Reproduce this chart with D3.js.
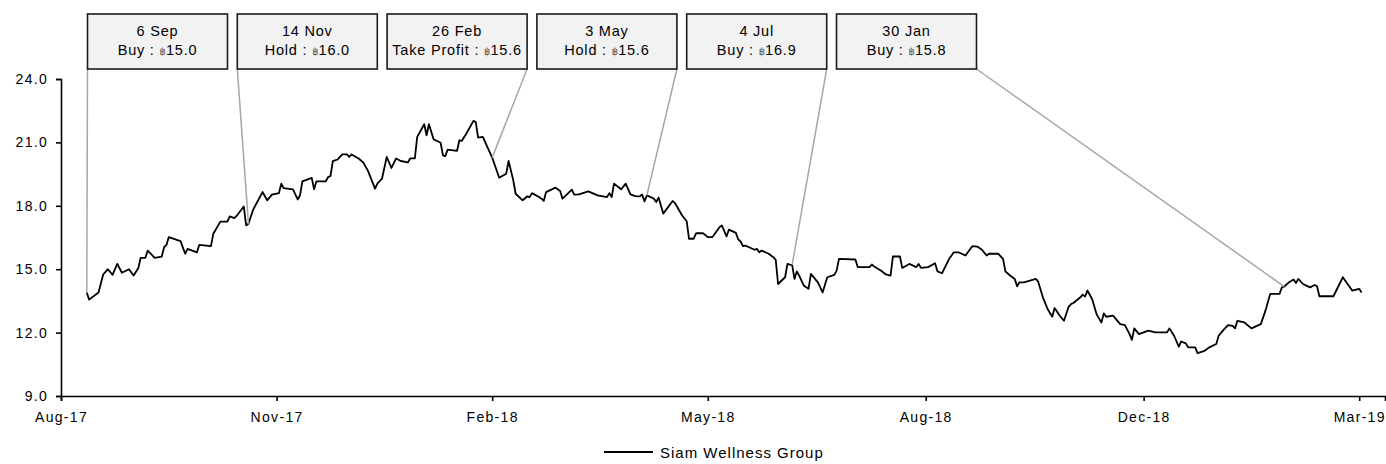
<!DOCTYPE html>
<html>
<head>
<meta charset="utf-8">
<script src="https://cdn.jsdelivr.net/npm/d3@7"></script>
<style>
  body { margin: 0; background: #fff; }
  .tick text { font-family: "Liberation Sans", Arial, sans-serif; font-size: 14px; letter-spacing: 1.3px; fill: #000; }
  .note text { font-family: "Liberation Sans", Arial, sans-serif; font-size: 14.5px; letter-spacing: 0.8px; fill: #000; }
  .note .baht { font-family: "DejaVu Sans", sans-serif; font-size: 10px; fill: #555; letter-spacing: 0; }
  .legend text { font-family: "Liberation Sans", Arial, sans-serif; font-size: 15px; letter-spacing: 1px; fill: #000; }
</style>
</head>
<body>
<div id="chart"></div>
<script>
// closing prices, Siam Wellness Group (THB)
const priceDates = [
  "2017-09-06","2017-09-07","2017-09-11","2017-09-13","2017-09-15","2017-09-17","2017-09-19","2017-09-21","2017-09-24","2017-09-26",
  "2017-09-28","2017-09-29","2017-10-01","2017-10-02","2017-10-05","2017-10-08","2017-10-09","2017-10-10","2017-10-11","2017-10-16",
  "2017-10-18","2017-10-19","2017-10-23","2017-10-24","2017-10-29","2017-10-30","2017-11-02","2017-11-05","2017-11-06","2017-11-08",
  "2017-11-09","2017-11-12","2017-11-13","2017-11-14","2017-11-16","2017-11-20","2017-11-22","2017-11-24","2017-11-27","2017-11-28",
  "2017-11-29","2017-12-03","2017-12-05","2017-12-06","2017-12-07","2017-12-11","2017-12-12","2017-12-13","2017-12-17","2017-12-18",
  "2017-12-19","2017-12-20","2017-12-22","2017-12-24","2017-12-26","2017-12-27","2017-12-28","2017-12-31","2018-01-02","2018-01-04",
  "2018-01-07","2018-01-08","2018-01-10","2018-01-12","2018-01-14","2018-01-16","2018-01-18","2018-01-21","2018-01-22","2018-01-24",
  "2018-01-25","2018-01-28","2018-01-29","2018-01-30","2018-02-01","2018-02-04","2018-02-05","2018-02-06","2018-02-07","2018-02-11",
  "2018-02-12","2018-02-13","2018-02-15","2018-02-18","2018-02-19","2018-02-20","2018-02-22","2018-02-26","2018-03-01","2018-03-04",
  "2018-03-05","2018-03-07","2018-03-08","2018-03-11","2018-03-13","2018-03-14","2018-03-15","2018-03-18","2018-03-19","2018-03-20",
  "2018-03-21","2018-03-25","2018-03-27","2018-03-28","2018-04-01","2018-04-02","2018-04-04","2018-04-08","2018-04-12","2018-04-16",
  "2018-04-17","2018-04-18","2018-04-19","2018-04-22","2018-04-24","2018-04-26","2018-04-28","2018-04-30","2018-05-01","2018-05-02",
  "2018-05-03","2018-05-06","2018-05-07","2018-05-08","2018-05-10","2018-05-14","2018-05-15","2018-05-18","2018-05-20","2018-05-21",
  "2018-05-23","2018-05-24","2018-05-27","2018-05-29","2018-05-31","2018-06-03","2018-06-04","2018-06-06","2018-06-07","2018-06-10",
  "2018-06-11","2018-06-12","2018-06-13","2018-06-14","2018-06-18","2018-06-19","2018-06-20","2018-06-21","2018-06-24","2018-06-26",
  "2018-06-27","2018-06-28","2018-07-01","2018-07-02","2018-07-03","2018-07-04","2018-07-05","2018-07-06","2018-07-07","2018-07-09",
  "2018-07-11","2018-07-12","2018-07-15","2018-07-17","2018-07-19","2018-07-22","2018-07-23","2018-07-24","2018-07-31","2018-08-01",
  "2018-08-06","2018-08-07","2018-08-08","2018-08-11","2018-08-13","2018-08-15","2018-08-16","2018-08-19","2018-08-20","2018-08-23",
  "2018-08-26","2018-08-27","2018-08-28","2018-08-31","2018-09-03","2018-09-04","2018-09-06","2018-09-09","2018-09-11","2018-09-13",
  "2018-09-16","2018-09-18","2018-09-19","2018-09-21","2018-09-23","2018-09-25","2018-09-26","2018-09-30","2018-10-02","2018-10-03",
  "2018-10-05","2018-10-07","2018-10-08","2018-10-09","2018-10-11","2018-10-16","2018-10-17","2018-10-19","2018-10-21","2018-10-23",
  "2018-10-24","2018-10-26","2018-10-28","2018-10-30","2018-10-31","2018-11-01","2018-11-04","2018-11-05","2018-11-06","2018-11-07",
  "2018-11-09","2018-11-11","2018-11-13","2018-11-14","2018-11-15","2018-11-18","2018-11-20","2018-11-21","2018-11-23","2018-11-25",
  "2018-11-26","2018-11-27","2018-11-29","2018-12-03","2018-12-06","2018-12-11","2018-12-12","2018-12-14","2018-12-16","2018-12-17",
  "2018-12-19","2018-12-20","2018-12-23","2018-12-24","2018-12-27","2018-12-29","2019-01-01","2019-01-02","2019-01-04","2019-01-06",
  "2019-01-08","2019-01-09","2019-01-10","2019-01-13","2019-01-16","2019-01-20","2019-01-22","2019-01-24","2019-01-28","2019-01-29",
  "2019-01-30","2019-02-01","2019-02-03","2019-02-04","2019-02-05","2019-02-07","2019-02-10","2019-02-12","2019-02-13","2019-02-14",
  "2019-02-20","2019-02-24","2019-02-28","2019-03-03","2019-03-04"
];
const priceValues = [
  13.90,13.56,13.90,14.75,15.00,14.73,15.25,14.83,15.00,14.70,
  15.06,15.54,15.54,15.88,15.54,15.60,16.04,16.15,16.52,16.33,
  15.73,15.96,15.80,16.15,16.09,16.68,17.25,17.25,17.50,17.42,
  17.53,17.97,17.07,17.15,17.82,18.65,18.26,18.53,18.60,19.05,
  18.84,18.78,18.30,18.50,19.16,19.32,18.78,19.16,19.16,19.36,
  19.41,20.11,20.19,20.43,20.43,20.31,20.43,20.24,20.05,19.65,
  18.81,19.05,19.29,20.31,19.79,20.24,20.12,20.05,20.24,20.24,
  21.26,21.86,21.34,21.86,21.15,20.98,20.39,20.35,20.66,20.60,
  21.10,21.07,21.42,22.02,21.96,21.23,21.26,20.28,19.33,19.52,
  20.12,19.21,18.57,18.26,18.45,18.41,18.60,18.42,18.34,18.23,
  18.65,18.86,18.70,18.34,18.77,18.53,18.54,18.68,18.49,18.41,
  18.60,18.41,19.05,18.78,19.05,18.54,18.46,18.45,18.53,18.21,
  18.49,18.34,18.18,18.39,17.63,18.23,18.13,17.55,17.27,16.44,
  16.44,16.70,16.70,16.52,16.52,16.99,17.07,16.55,16.87,16.72,
  16.41,16.31,16.09,16.12,15.92,15.96,15.80,15.88,15.73,15.57,
  15.44,14.30,14.62,15.25,15.22,15.20,14.54,14.89,14.70,14.22,
  14.07,14.78,14.38,13.90,14.62,14.73,14.93,15.49,15.46,15.10,
  15.10,15.22,15.13,14.93,14.75,14.70,15.60,15.60,15.06,15.25,
  15.10,15.25,15.06,15.10,15.28,14.90,14.81,15.49,15.80,15.80,
  15.65,15.96,16.09,16.07,15.92,15.65,15.73,15.73,15.49,14.90,
  14.70,14.54,14.19,14.38,14.38,14.54,14.41,13.67,13.12,12.75,
  13.16,12.83,12.56,13.22,13.35,13.40,13.67,13.80,13.70,13.99,
  13.59,12.85,12.48,12.91,12.75,12.80,12.53,12.40,12.35,11.93,
  11.66,12.20,11.93,12.09,12.01,12.01,12.20,11.85,11.33,11.58,
  11.49,11.30,11.30,11.03,11.14,11.30,11.46,11.85,12.12,12.35,
  12.32,12.20,12.56,12.48,12.20,12.40,13.04,13.83,13.83,14.14,
  14.18,14.38,14.51,14.35,14.54,14.30,14.14,14.25,14.19,13.72,
  13.72,14.62,13.99,14.07,13.90
];

// analyst calls
const noteDates = ["2017-09-06","2017-11-14","2018-02-26","2018-05-03","2018-07-04","2019-01-30"];
const noteCalls = ["Buy","Hold","Take Profit","Hold","Buy","Buy"];
const noteTargets = [15.0, 16.0, 15.6, 15.6, 16.9, 15.8];

// axis
const yTicks = [9, 12, 15, 18, 21, 24];
const xTickDates = ["2017-08-26","2017-11-26","2018-02-26","2018-05-29","2018-08-30","2018-12-01","2019-03-03"];
const seriesName = "Siam Wellness Group";

const parse = d3.timeParse("%Y-%m-%d");
const data = priceDates.map((d, i) => ({ date: parse(d), value: priceValues[i] }));

const W = 1386, H = 464;
const svg = d3.select("#chart").append("svg")
  .attr("width", W)
  .attr("height", H);

const x = d3.scaleTime()
  .domain([parse("2017-08-26"), parse("2019-03-14")])
  .range([61, 1385]);

const y = d3.scaleLinear()
  .domain([9, 24])
  .range([396, 79]);

// axes
const gx = svg.append("g")
  .attr("transform", "translate(0,396)")
  .call(d3.axisBottom(x)
    .tickValues(xTickDates.map(parse))
    .tickFormat(d3.timeFormat("%b-%y"))
    .tickSizeOuter(0)
    .tickSize(5)
    .tickPadding(11));

const gy = svg.append("g")
  .attr("transform", "translate(61,0)")
  .call(d3.axisLeft(y)
    .tickValues(yTicks)
    .tickFormat(d3.format(".1f"))
    .tickSizeOuter(0)
    .tickSize(5)
    .tickPadding(8));

[gx, gy].forEach(g => {
  g.select(".domain").attr("stroke", "#000").attr("stroke-width", 1.6);
  g.selectAll(".tick line").attr("stroke", "#000").attr("stroke-width", 1.6);
});

// price line
const line = d3.line()
  .x(d => x(d.date))
  .y(d => y(d.value));

svg.append("path")
  .datum(data)
  .attr("fill", "none")
  .attr("stroke", "#000")
  .attr("stroke-width", 1.8)
  .attr("stroke-linejoin", "round")
  .attr("d", line);

// annotation boxes
const boxW = 140, boxH = 55, boxTop = 14, boxLeft = 87.5, boxStep = 149.8;
const fmtNote = d3.timeFormat("%-d %b");

const notes = noteDates.map((d, i) => {
  const date = parse(d);
  const pt = data.find(p => +p.date === +date);
  return { date, call: noteCalls[i], target: noteTargets[i], value: pt.value, i };
});

const note = svg.selectAll("g.note")
  .data(notes)
  .enter()
  .append("g")
  .attr("class", "note");

note.append("line")
  .attr("x1", d => {
    const left = boxLeft + d.i * boxStep, right = left + boxW;
    const px = x(d.date);
    return Math.abs(px - left) <= Math.abs(px - right) ? left : right;
  })
  .attr("y1", boxTop + boxH)
  .attr("x2", d => x(d.date))
  .attr("y2", d => y(d.value))
  .attr("stroke", "#a6a6a6")
  .attr("stroke-width", 1.5);

note.append("rect")
  .attr("x", d => boxLeft + d.i * boxStep)
  .attr("y", boxTop)
  .attr("width", boxW)
  .attr("height", boxH)
  .attr("fill", "#f2f2f2")
  .attr("stroke", "#1a1a1a")
  .attr("stroke-width", 1.6);

note.append("text")
  .attr("x", d => boxLeft + d.i * boxStep + boxW / 2)
  .attr("y", 36)
  .attr("text-anchor", "middle")
  .text(d => fmtNote(d.date));

const t2 = note.append("text")
  .attr("x", d => boxLeft + d.i * boxStep + boxW / 2)
  .attr("y", 54.5)
  .attr("text-anchor", "middle");
t2.append("tspan").text(d => d.call + " : ");
t2.append("tspan").attr("class", "baht").text("\u0E3F");
t2.append("tspan").text(d => d3.format(".1f")(d.target));

// legend
const legend = svg.append("g").attr("class", "legend");
legend.append("line")
  .attr("x1", 604).attr("x2", 653)
  .attr("y1", 452).attr("y2", 452)
  .attr("stroke", "#000")
  .attr("stroke-width", 1.8);
legend.append("text")
  .attr("x", 660)
  .attr("y", 458)
  .text(seriesName);
</script>
</body>
</html>
